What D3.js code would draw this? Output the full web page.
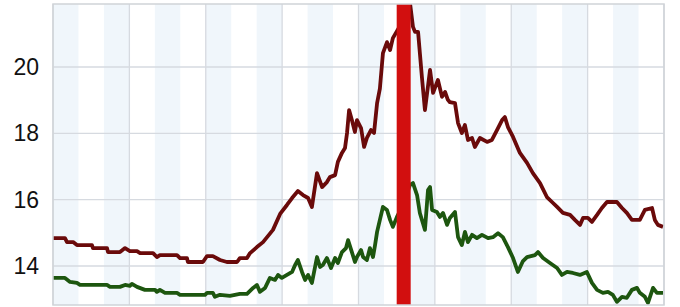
<!DOCTYPE html>
<html>
<head>
<meta charset="utf-8">
<script src="https://cdn.jsdelivr.net/npm/d3@7"></script>
<style>
  html, body { margin: 0; padding: 0; background: #fff; }
</style>
</head>
<body>
<div id="chart"></div>
<script>
// x in years from start of the chart window
const yTicks = [14, 16, 18, 20];
const gridYears = [0, 3, 6, 9, 12, 15, 18, 21, 24];
const band = [13.5, 14.05];

const redT = [0, 0.47, 0.55, 0.79, 0.94, 1.53, 1.57, 2.12, 2.16, 2.63, 2.83, 3.02, 3.30, 3.42, 3.93,
  4.08, 4.20, 4.87, 4.99, 5.26, 5.30, 5.89, 6.05, 6.28, 6.56, 6.83, 7.23, 7.34, 7.62, 7.74, 8.01,
  8.25, 8.64, 8.92, 9.19, 9.39, 9.62, 9.82, 10.02, 10.17, 10.37, 10.57, 10.76, 10.88, 11.08, 11.19,
  11.35, 11.47, 11.55, 11.63, 11.74, 11.86, 11.94, 12.10, 12.22, 12.33, 12.49, 12.61, 12.73, 12.84,
  12.96, 13.12, 13.24, 13.35, 13.6, 13.90, 14.02, 14.14, 14.22, 14.34, 14.49, 14.61, 14.81, 14.93,
  15.12, 15.28, 15.40, 15.51, 15.59, 15.79, 15.91, 16.06, 16.18, 16.30, 16.46, 16.57, 16.77, 17.05,
  17.24, 17.44, 17.64, 17.75, 17.87, 18.07, 18.34, 18.62, 18.85, 19.13, 19.40, 19.60, 19.80, 20.03,
  20.31, 20.50, 20.70, 20.82, 21.01, 21.17, 21.37, 21.56, 21.76, 22.15, 22.35, 22.54, 22.74, 23.05,
  23.25, 23.53, 23.64, 23.76, 23.96];
const redV = [14.84, 14.84, 14.72, 14.72, 14.63, 14.63, 14.54, 14.54, 14.42, 14.42, 14.54, 14.45, 14.45, 14.39, 14.39,
  14.27, 14.33, 14.33, 14.24, 14.24, 14.12, 14.12, 14.30, 14.30, 14.18, 14.12, 14.12, 14.24, 14.24, 14.39, 14.57,
  14.72, 15.09, 15.57, 15.84, 16.05, 16.26, 16.14, 16.05, 15.78, 16.80, 16.38, 16.53, 16.68, 16.74, 17.14,
  17.41, 17.56, 18.01, 18.70, 18.40, 18.04, 18.40, 18.16, 17.59, 17.86, 18.10, 18.01, 18.91, 19.35,
  20.42, 20.75, 20.51, 20.87, 21.2, 21.72, 21.95, 21.21, 21.06, 21.06, 19.70, 18.70, 19.91, 19.22,
  19.61, 19.10, 19.25, 19.01, 18.94, 18.91, 18.31, 18.01, 18.25, 17.80, 17.86, 17.59, 17.86, 17.74,
  17.80, 18.10, 18.40, 18.49, 18.19, 17.89, 17.41, 17.11, 16.80, 16.50, 16.08, 15.93, 15.78, 15.60,
  15.54, 15.39, 15.24, 15.45, 15.45, 15.33, 15.54, 15.75, 15.93, 15.93, 15.75, 15.60, 15.39, 15.39,
  15.69, 15.75, 15.39, 15.24, 15.18];

const greenT = [0, 0.47, 0.67, 0.94, 1.06, 2.12, 2.24, 2.63, 2.83, 3.02, 3.10, 3.30, 3.61, 4.01, 4.08,
  4.20, 4.40, 4.87, 4.99, 5.97, 6.05, 6.28, 6.36, 6.56, 6.95, 7.34, 7.62, 7.86, 8.01, 8.13, 8.33,
  8.52, 8.72, 8.84, 8.99, 9.19, 9.39, 9.51, 9.62, 9.78, 9.90, 10.02, 10.17, 10.37, 10.49, 10.60,
  10.76, 10.92, 11.08, 11.19, 11.35, 11.51, 11.59, 11.74, 11.86, 11.94, 12.10, 12.18, 12.33, 12.45,
  12.57, 12.65, 12.73, 12.84, 12.96, 13.12, 13.24, 13.35, 13.51, 13.75, 14.02, 14.14, 14.30, 14.41,
  14.61, 14.73, 14.81, 14.89, 15.08, 15.20, 15.32, 15.48, 15.59, 15.79, 15.91, 16.06, 16.18, 16.30,
  16.46, 16.65, 16.85, 17.09, 17.28, 17.48, 17.67, 17.87, 18.07, 18.26, 18.46, 18.62, 18.93, 19.05,
  19.25, 19.52, 19.80, 19.99, 20.19, 20.42, 20.70, 20.97, 21.17, 21.37, 21.60, 21.80, 21.99, 22.15,
  22.35, 22.54, 22.74, 22.94, 23.05, 23.25, 23.37, 23.57, 23.72, 23.96];
const greenV = [13.64, 13.64, 13.52, 13.49, 13.43, 13.43, 13.37, 13.37, 13.43, 13.40, 13.46, 13.37, 13.28, 13.28, 13.22,
  13.28, 13.19, 13.19, 13.13, 13.13, 13.19, 13.19, 13.07, 13.13, 13.10, 13.16, 13.16, 13.34, 13.43, 13.22, 13.34,
  13.64, 13.58, 13.73, 13.64, 13.73, 13.82, 14.03, 14.18, 13.82, 13.58, 13.73, 13.49, 14.27, 13.97, 14.03,
  14.24, 13.94, 14.24, 14.09, 14.42, 14.54, 14.78, 14.42, 14.12, 14.27, 14.48, 14.27, 14.18, 14.54,
  14.27, 14.63, 15.03, 15.39, 15.78, 15.69, 15.39, 15.18, 15.48, 15.84, 16.44, 16.50, 16.14, 15.60,
  15.09, 16.29, 16.38, 15.69, 15.63, 15.48, 15.60, 15.24, 15.45, 15.63, 14.87, 14.63, 15.03, 14.72,
  14.94, 14.84, 14.94, 14.84, 14.87, 14.99, 14.87, 14.57, 14.24, 13.82, 14.15, 14.27, 14.33, 14.42,
  14.24, 14.09, 13.94, 13.73, 13.82, 13.79, 13.73, 13.82, 13.49, 13.28, 13.19, 13.22, 13.13, 12.92,
  13.07, 13.04, 13.28, 13.34, 13.19, 13.07, 12.89, 13.34, 13.19, 13.19];

const margin = { top: 4, right: 16, bottom: 2, left: 53 };
const baseWidth = 680;
const baseHeight = 307;
const width = baseWidth - margin.left - margin.right;
const height = baseHeight - margin.top - margin.bottom;

const svg = d3.select("#chart")
  .append("svg")
  .attr("width", baseWidth)
  .attr("height", baseHeight);

const group = svg.append("g")
  .attr("transform", `translate(${margin.left}, ${margin.top})`);

const xScale = d3.scaleLinear().domain([0, 24]).range([0, width]);
const yScale = d3.scaleLinear().domain([12.824, 21.9]).range([height, 0]);

group.append("clipPath").attr("id", "plot-clip")
  .append("rect").attr("width", width).attr("height", height);

// alternating year stripes
group.selectAll(".stripe")
  .data(d3.range(0, 24, 2))
  .enter()
  .append("rect")
  .attr("class", "stripe")
  .attr("x", d => xScale(d))
  .attr("width", xScale(1) - xScale(0))
  .attr("y", 0)
  .attr("height", height)
  .attr("fill", "#f0f6fb");

// grid
group.selectAll(".vgrid")
  .data(gridYears)
  .enter()
  .append("line")
  .attr("x1", d => xScale(d)).attr("x2", d => xScale(d))
  .attr("y1", 0).attr("y2", height)
  .attr("stroke", "#d6dae0")
  .attr("stroke-width", 1.3);

group.selectAll(".hgrid")
  .data(yTicks)
  .enter()
  .append("line")
  .attr("x1", 0).attr("x2", width)
  .attr("y1", d => yScale(d)).attr("y2", d => yScale(d))
  .attr("stroke", "#d6dae0")
  .attr("stroke-width", 1.3);

// y axis labels
const yAxis = group.append("g")
  .call(d3.axisLeft(yScale).tickValues(yTicks).tickSize(0).tickPadding(14));
yAxis.select(".domain").remove();
yAxis.selectAll("text")
  .style("font-family", "'Liberation Sans', Arial, sans-serif")
  .style("font-size", "23px")
  .style("fill", "#111");

const line = d3.line()
  .x(d => xScale(d[0]))
  .y(d => yScale(d[1]));

const lines = group.append("g").attr("clip-path", "url(#plot-clip)");

lines.append("path")
  .datum(d3.zip(greenT, greenV))
  .attr("d", line)
  .attr("fill", "none")
  .attr("stroke", "#1d560f")
  .attr("stroke-width", 3.8)
  .attr("stroke-linejoin", "round");

lines.append("path")
  .datum(d3.zip(redT, redV))
  .attr("d", line)
  .attr("fill", "none")
  .attr("stroke", "#6a0a0a")
  .attr("stroke-width", 3.8)
  .attr("stroke-linejoin", "round");

// highlighted band
group.append("rect")
  .attr("x", xScale(band[0]))
  .attr("width", xScale(band[1]) - xScale(band[0]))
  .attr("y", 0)
  .attr("height", height)
  .attr("fill", "#d20f0f");

// plot frame
group.append("rect")
  .attr("width", width)
  .attr("height", height)
  .attr("fill", "none")
  .attr("stroke", "#cfd3d8")
  .attr("stroke-width", 1.5);
</script>
</body>
</html>
